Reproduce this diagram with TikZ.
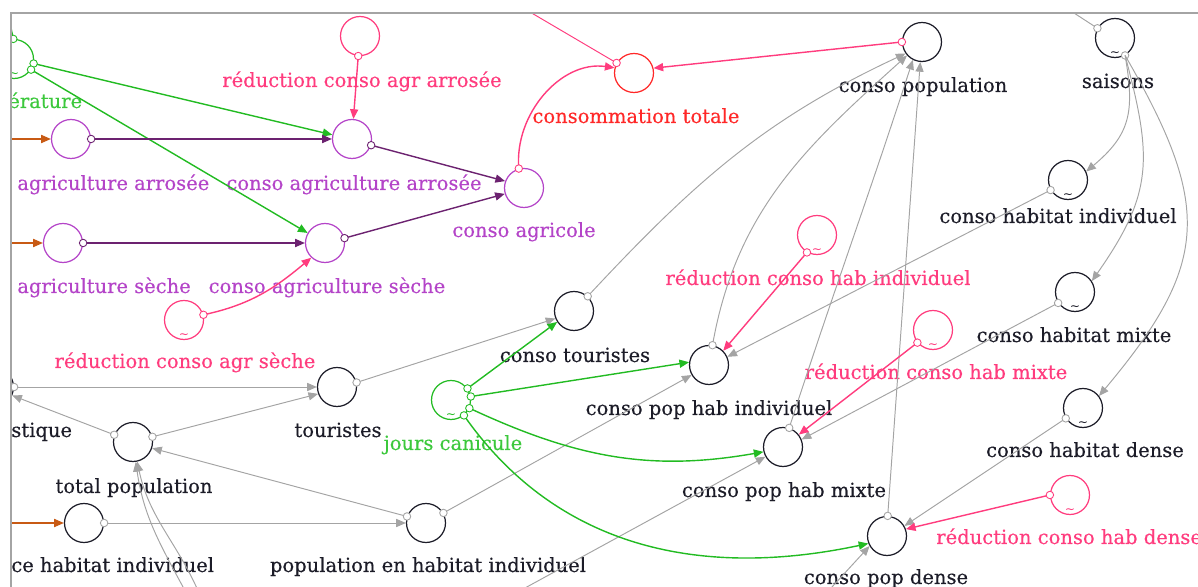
\documentclass[tikz,border=0pt]{standalone}
\usepackage{fontspec}
\setmainfont{DejaVu Serif}
\newfontfamily\labfam{DejaVu Serif}[FakeBold=0.35]
\usetikzlibrary{arrows.meta}
\definecolor{cgray}{HTML}{A4A4A4}
\definecolor{cgreen}{HTML}{22BB22}
\definecolor{clgreen}{HTML}{3CC83C}
\definecolor{cpurple}{HTML}{B444C8}
\definecolor{cdpurple}{HTML}{6C2270}
\definecolor{cpink}{HTML}{FF3C7E}
\definecolor{cred}{HTML}{FF2828}
\definecolor{corange}{HTML}{C85A14}
\definecolor{cink}{HTML}{1C1C28}
\newcommand\labfont{\labfam\fontsize{11.1}{13}\selectfont}

\begin{document}
\begin{tikzpicture}[x=0.02cm,y=0.02cm,
  var/.style={circle,draw=#1,line width=0.7pt,inner sep=0pt,minimum size=0.78cm},
  var/.default=cink,
  gf/.style={label={[font=\fontsize{7}{7}\selectfont,text=#1,anchor=south,inner sep=0.6pt]-90:\textasciitilde}},
  lab/.style={font=\labfont,inner sep=0pt,anchor=base,text=#1},
  lab/.default=cink,
  lnk/.style={draw=#1,line width=0.55pt,-{Triangle[length=5.5pt,width=4.6pt]}},
  lnk/.default=cgray,
  clnk/.style={lnk=#1,line width=0.8pt},
  src/.style={circle,draw=#1,fill=white,line width=0.5pt,inner sep=0pt,minimum size=0.15cm},
  src/.default=cgray]
\useasboundingbox (0,0) rectangle (1198,-587);
\begin{scope}
\clip (11,-13) rectangle (1198,-587);
% variables
\node[var=cgreen,gf=cgreen] (temp) at (14,-59) {};
\node[var=cpurple] (agrArr) at (71,-139) {};
\node[var=cpurple] (cAgrArr) at (352,-139) {};
\node[var=cpink] (redArr) at (360,-36) {};
\node[var=cred] (ctot) at (634,-73) {};
\node[var=cpurple] (cAgri) at (524,-188) {};
\node[var=cpurple] (agrSec) at (63,-243) {};
\node[var=cpurple] (cAgrSec) at (325,-243) {};
\node[var=cpink,gf=cpink] (redSec) at (184,-320) {};
\node[var] (ctour) at (574,-311) {};
\node[var] (tour) at (337,-387) {};
\node[var] (stq) at (-6,-387) {};
\node[var] (totpop) at (133,-442) {};
\node[var] (shi) at (84,-523) {};
\node[var] (phi) at (426,-523) {};
\node[var=cgreen,gf=cgreen] (jc) at (451,-400) {};
\node[var] (cphi) at (709,-365) {};
\node[var] (cphm) at (783,-447) {};
\node[var] (cpd) at (887,-536) {};
\node[var] (cpop) at (922,-42) {};
\node[var,gf=cink] (sais) at (1115,-38) {};
\node[var,gf=cink] (chi) at (1068,-180) {};
\node[var,gf=cink] (chm) at (1075,-292) {};
\node[var,gf=cink] (chd) at (1083,-408) {};
\node[var=cpink,gf=cpink] (rhi) at (817,-235) {};
\node[var=cpink,gf=cpink] (rhm) at (933,-330) {};
\node[var=cpink,gf=cpink] (rhd) at (1070,-495) {};
% free ends outside the frame
\coordinate (tout) at (5,0);
\coordinate (cout) at (501,5);
\coordinate (sout) at (1054,0);
\coordinate (fArr) at (0,-139);
\coordinate (fSec) at (0,-243);
\coordinate (fShi) at (0,-523);
\coordinate (pmix) at (503,-600);
\coordinate (pden) at (820,-600);
\coordinate (ptotA) at (190,-600);
\coordinate (ptotB) at (202,-600);
% labels
\node[lab=clgreen,anchor=base west] (temp-l) at (8,-108) {érature};
\node[lab=cpink] (redArr-l) at (362,-87) {réduction conso agr arrosée};
\node[lab=cred] (ctot-l) at (636,-123) {consommation totale};
\node[lab] (cpop-l) at (923,-92) {conso population};
\node[lab] (sais-l) at (1118,-88) {saisons};
\node[lab=cpurple,anchor=base west] (agrArr-l) at (17,-190) {agriculture arrosée};
\node[lab=cpurple] (cAgrArr-l) at (354,-190) {conso agriculture arrosée};
\node[lab=cpurple] (cAgri-l) at (524,-237) {conso agricole};
\node[lab] (chi-l) at (1058,-223) {conso habitat individuel};
\node[lab=cpurple,anchor=base west] (agrSec-l) at (17,-293) {agriculture sèche};
\node[lab=cpurple] (cAgrSec-l) at (327,-293) {conso agriculture sèche};
\node[lab=cpink] (rhi-l) at (818,-285) {réduction conso hab individuel};
\node[lab] (chm-l) at (1074,-342) {conso habitat mixte};
\node[lab] (ctour-l) at (575,-362) {conso touristes};
\node[lab=cpink] (redSec-l) at (185,-368) {réduction conso agr sèche};
\node[lab=cpink] (rhm-l) at (936,-379) {réduction conso hab mixte};
\node[lab] (cphi-l) at (709,-415) {conso pop hab individuel};
\node[lab,anchor=base west] (stq-l) at (11,-437) {stique};
\node[lab] (tour-l) at (338,-437) {touristes};
\node[lab=clgreen] (jc-l) at (453,-450) {jours canicule};
\node[lab] (chd-l) at (1085,-457) {conso habitat dense};
\node[lab] (totpop-l) at (134,-493) {total population};
\node[lab] (cphm-l) at (784,-497) {conso pop hab mixte};
\node[lab=cpink,anchor=base west] (rhd-l) at (936,-544) {réduction conso hab dense};
\node[lab,anchor=base west] (shi-l) at (11,-572) {ce habitat individuel};
\node[lab] (phi-l) at (428,-572) {population en habitat individuel};
\node[lab] (cpd-l) at (886,-584) {conso pop dense};
% flows
\draw[clnk=corange] (fArr) -- (agrArr.180);
\draw[clnk=corange] (fSec) -- (agrSec.180);
\draw[clnk=corange] (fShi) -- (shi.180);
% agriculture
\draw[clnk=cgreen] (temp.-13) node[src=cgreen]{} -- (cAgrArr.168);
\draw[clnk=cgreen] (temp.-32) node[src=cgreen]{} -- (cAgrSec.150);
\draw[clnk=cgreen] (temp.92) node[src=cgreen]{} -- (tout);
\draw[clnk=cdpurple] (agrArr.0) node[src=cdpurple]{} -- (cAgrArr.180);
\draw[clnk=cdpurple] (agrSec.0) node[src=cdpurple]{} -- (cAgrSec.180);
\draw[clnk=cdpurple] (cAgrArr.-18) node[src=cdpurple]{} -- (cAgri.160);
\draw[clnk=cdpurple] (cAgrSec.14) node[src=cdpurple]{} -- (cAgri.197);
\draw[clnk=cpink] (redArr.-95) node[src=cpink]{} -- (cAgrArr.86);
\draw[clnk=cpink] (redSec.15) node[src=cpink]{} to[out=12,in=220] (cAgrSec.227);
% totals
\draw[clnk=cpink] (cAgri.105) node[src=cpink]{} to[out=95,in=172] (ctot.165);
\draw[clnk=cpink] (cpop.180) node[src=cpink]{} -- (ctot.14);
\draw[lnk=cpink] (ctot.150) node[src=cpink]{} -- (cout);
% population
\draw[lnk] (tour.13) node[src]{} -- (ctour.202);
\draw[lnk] (stq.0) node[src]{} -- (tour.180);
\draw[lnk] (totpop.15) node[src]{} -- (tour.200);
\draw[lnk] (totpop.159) node[src]{} -- (stq.-25);
\draw[lnk] (phi.161) node[src]{} -- (totpop.-18);
\draw[lnk] (shi.0) node[src]{} -- (phi.180);
\draw[lnk] (phi.30) node[src]{} -- (cphi.210);
\draw[lnk] (pmix) -- (cphm.209);
\draw[lnk] (pden) -- (cpd.210);
\draw[lnk] (ptotA) to[out=118,in=-82] (totpop.278);
\draw[lnk] (ptotB) to[out=112,in=-78] (totpop.282);
% conso population
\draw[lnk] (ctour.47) node[src]{} to[out=47,in=205] (cpop.215);
\draw[lnk] (cphi.80) node[src]{} to[out=80,in=222] (cpop.222);
\draw[lnk] (cphm.72) node[src]{} to[out=72,in=252] (cpop.243);
\draw[lnk] (cpd.88) node[src]{} -- (cpop.265);
% saisons
\draw[lnk] (sais.151) node[src]{} -- (sout);
\draw[lnk] (sais.300) node[src]{} to[out=-80,in=40,looseness=1.2] (chi.25);
\draw[lnk] (sais.300) to[out=-75,in=55,looseness=1.2] (chm.33);
\draw[lnk] (sais.300) to[out=-60,in=50,looseness=1.3] (chd.37);
\draw[lnk] (chi.210) node[src]{} -- (cphi.24);
\draw[lnk] (chm.213) node[src]{} -- (cphm.22);
\draw[lnk] (chd.211) node[src]{} -- (cpd.30);
% reductions
\draw[clnk=cpink] (rhi.240) node[src=cpink]{} -- (cphi.45);
\draw[clnk=cpink] (rhm.219) node[src=cpink]{} -- (cphm.38);
\draw[clnk=cpink] (rhd.180) node[src=cpink]{} -- (cpd.20);
% jours canicule
\draw[clnk=cgreen] (jc.35) node[src=cgreen]{} -- (ctour.213);
\draw[clnk=cgreen] (jc.10) node[src=cgreen]{} -- (cphi.172);
\draw[clnk=cgreen] (jc.-24) node[src=cgreen]{} to[out=-25,in=190] (cphm.194);
\draw[clnk=cgreen] (jc.-50) node[src=cgreen]{} to[out=-55,in=192] (cpd.202);
\end{scope}
% frame
\draw[cgray,line width=1.1pt] (11,-587) -- (11,-13) -- (1198,-13);
\end{tikzpicture}
\end{document}
